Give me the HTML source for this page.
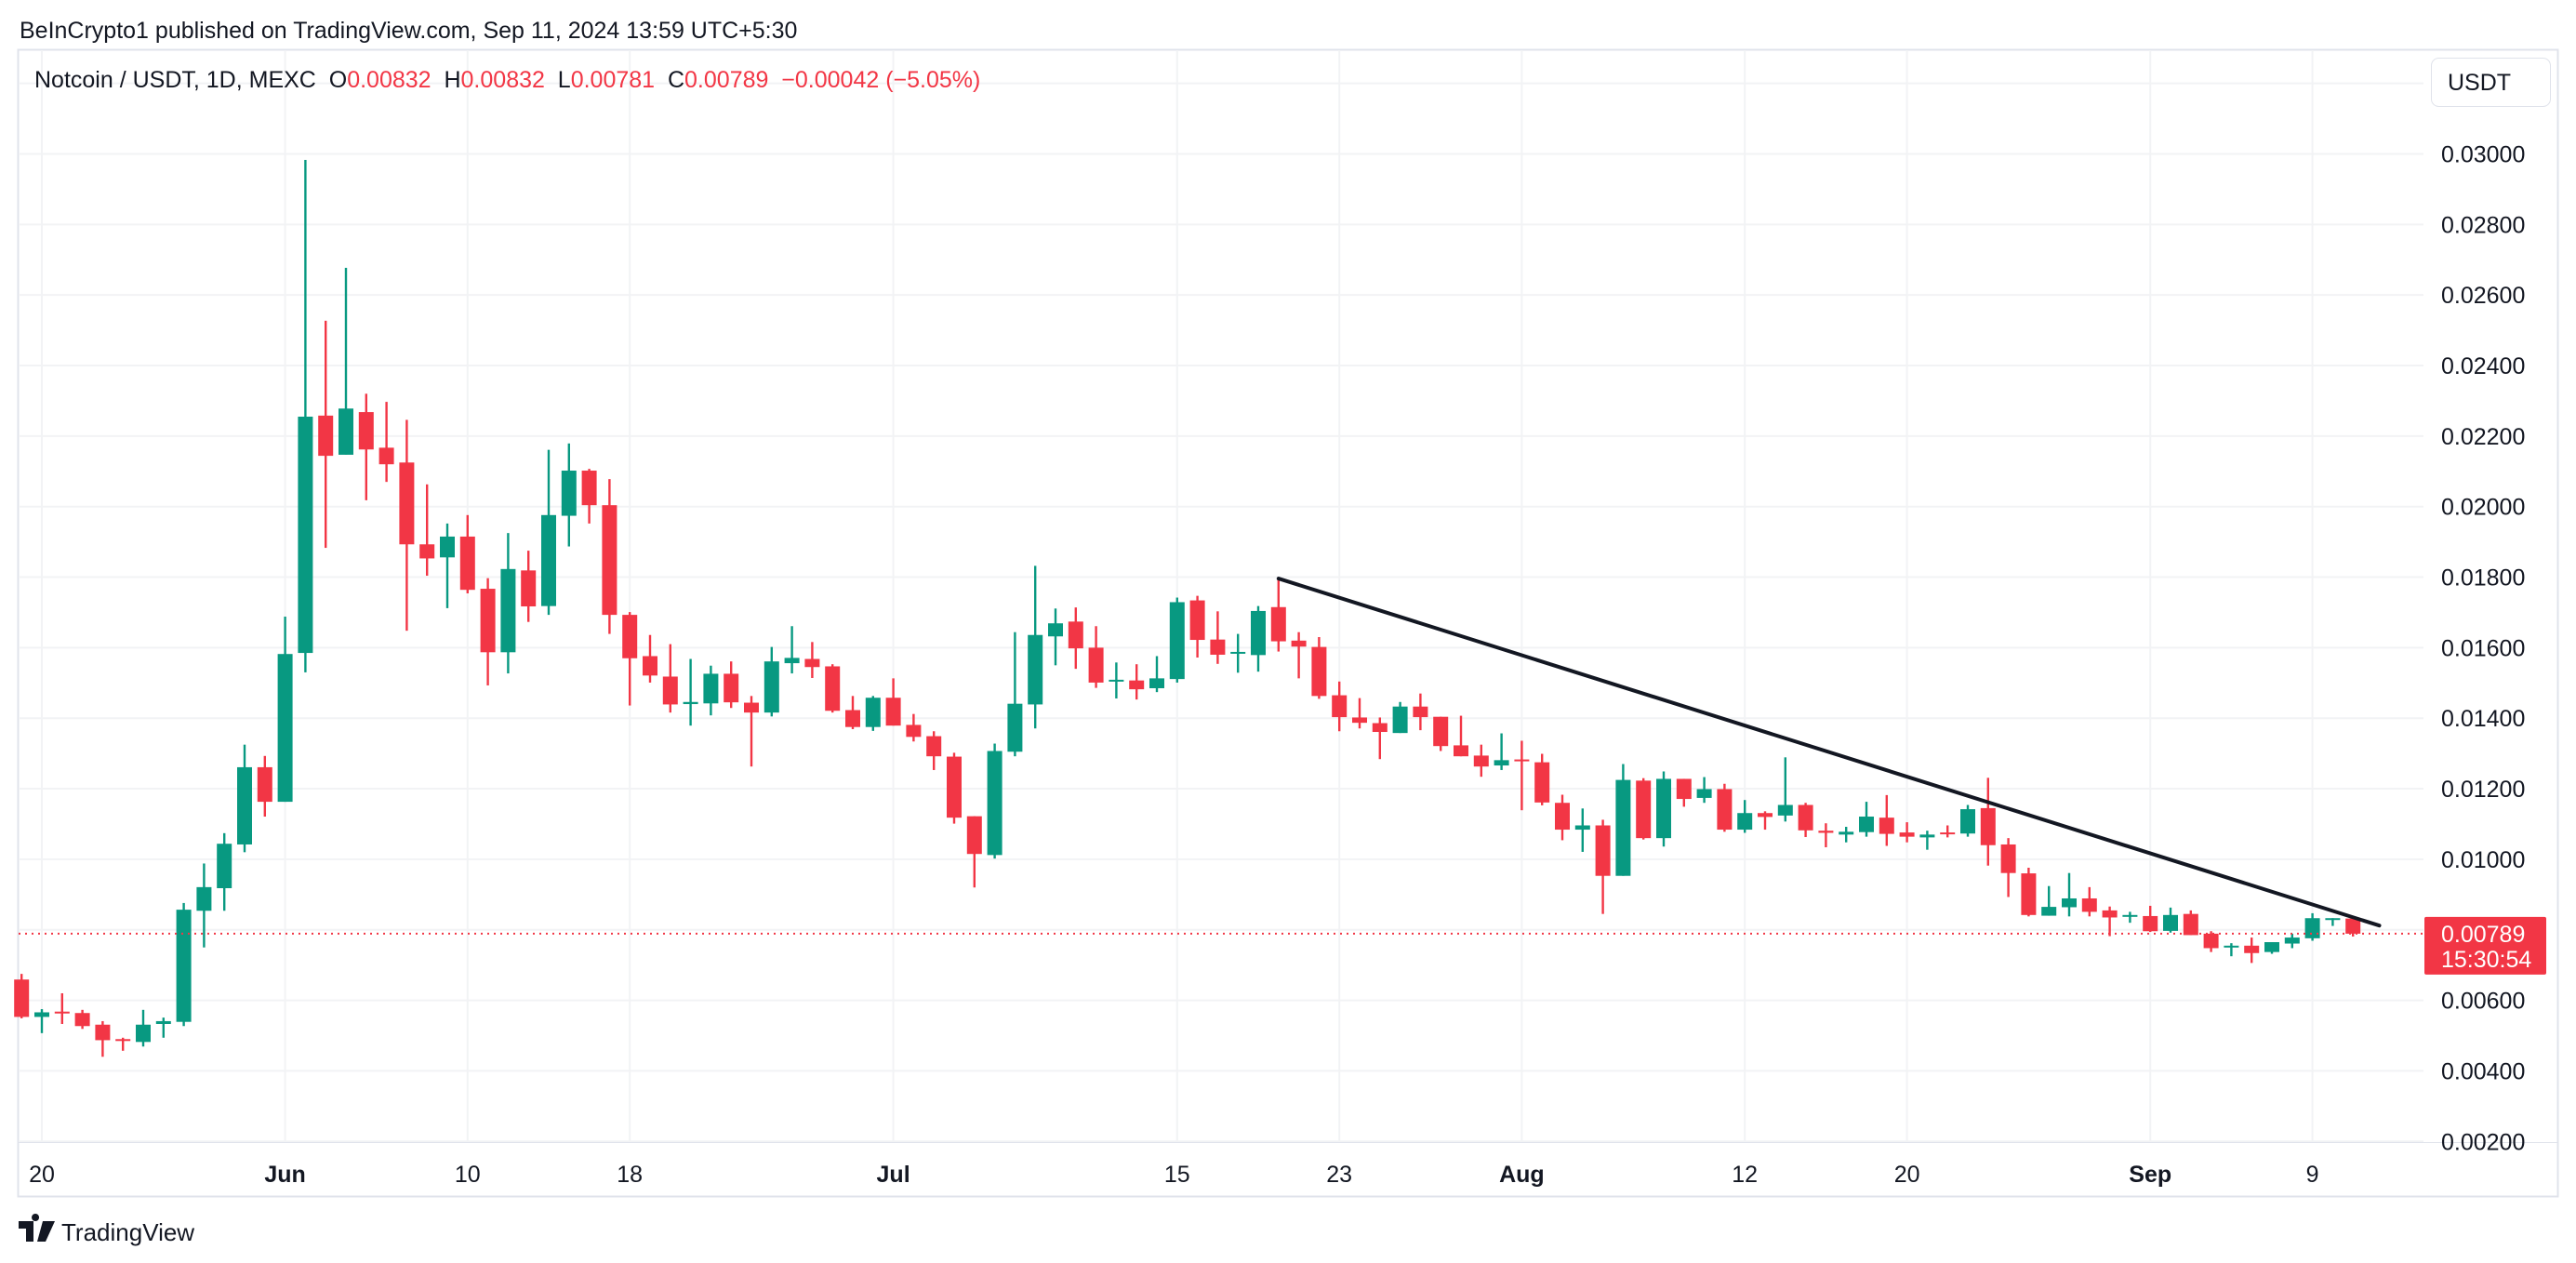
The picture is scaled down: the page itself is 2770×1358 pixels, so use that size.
<!DOCTYPE html>
<html><head><meta charset="utf-8"><style>
html,body{margin:0;padding:0;background:#fff;}
svg{display:block;font-family:"Liberation Sans",sans-serif;}
</style></head><body>
<svg id="chart" width="2770" height="1358" viewBox="0 0 2770 1358" xmlns="http://www.w3.org/2000/svg">
<text x="21" y="41" font-size="25" fill="#131722">BeInCrypto1 published on TradingView.com, Sep 11, 2024 13:59 UTC+5:30</text>
<rect x="19.5" y="53.5" width="2731" height="1233" fill="none" stroke="#e0e3eb" stroke-width="2"/>
<g id="grid"></g>
<g id="candles"></g>
<g id="overlay"></g>
<text x="37" y="94" font-size="25" style="white-space:pre" xml:space="preserve"><tspan fill="#131722">Notcoin / USDT, 1D, MEXC  </tspan><tspan fill="#131722">O</tspan><tspan fill="#f23645">0.00832  </tspan><tspan fill="#131722">H</tspan><tspan fill="#f23645">0.00832  </tspan><tspan fill="#131722">L</tspan><tspan fill="#f23645">0.00781  </tspan><tspan fill="#131722">C</tspan><tspan fill="#f23645">0.00789  −0.00042 (−5.05%)</tspan></text>
<rect x="2614.5" y="62.5" width="128" height="52" rx="8" fill="#fff" stroke="#e0e3eb"/>
<text x="2632" y="97" font-size="25" fill="#131722">USDT</text>
<g>
<path d="M20 1313h16v22h-8v-14h-8z M38 1313a4 4 0 1 1 0.1 0z M46 1313h13l-10 22h-9z" fill="#131722"/>
<text x="66" y="1334" font-size="26" fill="#131722">TradingView</text>
</g>
</svg>
<script>
const startDay = -1; // May 19 = -1, May 20 = 0
const opens = [.00659,.00553,.00568,.00564,.00531,.00490,.00482,.00533,.00539,.00854,.00918,.01042,.01261,
.01163,.01585,.02258,.02147,.02268,.02167,.02125,.01893,.01856,.01915,.01767,.01587,.01819,.01718,.01974,.02102,.02004,.01693,.01576,.01518,.01440,.01442,.01526,.01444,.01416,.01556,.01568,.01547,.01423,.01375,
.01458,.01381,.01349,.01291,.01122,.01012,.01305,.01439,.01632,.01674,.01600,.01505,.01507,.01485,.01511,.01734,.01623,.01583,.01579,.01715,.01620,.01602,.01465,.01402,.01386,.01358,.01433,.01404,.01323,.01294,.01266,
.01283,.01275,.01160,.01084,.01096,.00953,.01223,.01060,.01228,.01174,.01199,.01084,.01131,.01124,.01154,.01081,.01070,.01077,.01118,.01076,.01062,.01076,.01073,.01145,.01042,.00960,.00840,.00864,.00889,.00855,.00840,
.00839,.00797,.00845,.00789,.00752,.00755,.00737,.00761,.00776,.00831,.00832];
const highs = [.00675,.00575,.00620,.00573,.00541,.00494,.00573,.00551,.00876,.00988,.01074,.01325,.01293,
.01688,.02983,.02527,.02677,.02320,.02297,.02246,.02063,.01952,.01976,.01797,.01925,.01875,.02161,.02179,.02107,.02078,.01701,.01636,.01610,.01568,.01549,.01561,.01463,.01602,.01661,.01616,.01553,.01463,.01463,
.01513,.01412,.01363,.01302,.01122,.01328,.01644,.01832,.01711,.01714,.01661,.01558,.01553,.01576,.01742,.01747,.01703,.01639,.01718,.01796,.01644,.01630,.01504,.01457,.01402,.01446,.01470,.01404,.01407,.01325,.01357,
.01336,.01299,.01183,.01144,.01112,.01270,.01230,.01249,.01228,.01233,.01214,.01168,.01136,.01289,.01160,.01102,.01092,.01163,.01182,.01105,.01081,.01096,.01154,.01231,.01060,.00976,.00924,.00961,.00921,.00866,.00851,
.00868,.00863,.00855,.00796,.00762,.00778,.00765,.00789,.00847,.00833,.00832];
const lows = [.00549,.00507,.00533,.00519,.00440,.00457,.00469,.00494,.00527,.00750,.00854,.01020,.01121,
.01163,.01530,.01883,.02147,.02018,.02070,.01648,.01804,.01712,.01754,.01493,.01527,.01673,.01693,.01887,.01952,.01639,.01436,.01501,.01416,.01379,.01408,.01429,.01263,.01405,.01527,.01514,.01416,.01369,.01364,
.01379,.01334,.01253,.01101,.00920,.01002,.01292,.01371,.01550,.01540,.01486,.01456,.01453,.01474,.01501,.01572,.01554,.01529,.01532,.01589,.01513,.01455,.01363,.01371,.01284,.01358,.01366,.01307,.01292,.01234,.01253,
.01139,.01153,.01054,.01021,.00845,.00953,.01056,.01036,.01149,.01160,.01078,.01075,.01084,.01107,.01063,.01034,.01048,.01064,.01038,.01048,.01027,.01062,.01064,.00982,.00893,.00838,.00840,.00838,.00838,.00782,.00820,
.00794,.00792,.00785,.00737,.00725,.00706,.00732,.00748,.00769,.00811,.00781];
const closes = [.00553,.00566,.00566,.00527,.00487,.00486,.00531,.00541,.00857,.00921,.01044,.01261,.01163,
.01582,.02255,.02144,.02278,.02162,.02120,.01893,.01853,.01915,.01764,.01587,.01823,.01717,.01976,.02102,.02004,.01693,.01570,.01521,.01439,.01446,.01526,.01445,.01416,.01561,.01571,.01545,.01421,.01375,.01458,
.01379,.01347,.01292,.01118,.01015,.01307,.01441,.01636,.01669,.01598,.01501,.01509,.01482,.01513,.01729,.01622,.01580,.01588,.01704,.01618,.01603,.01463,.01403,.01387,.01361,.01433,.01403,.01321,.01292,.01263,.01281,
.01280,.01161,.01084,.01096,.00953,.01225,.01060,.01228,.01171,.01199,.01084,.01131,.01120,.01154,.01082,.01075,.01078,.01121,.01072,.01064,.01070,.01074,.01142,.01040,.00961,.00842,.00865,.00889,.00851,.00835,.00842,
.00796,.00842,.00785,.00748,.00755,.00734,.00765,.00778,.00833,.00833,.00789];
const priceTicks = [0.032,0.030,0.028,0.026,0.024,0.022,0.020,0.018,0.016,0.014,0.012,0.010,0.008,0.006,0.004,0.002];
const priceTickLabels = ["","0.03000","0.02800","0.02600","0.02400","0.02200","0.02000","0.01800","0.01600","0.01400","0.01200","0.01000","","0.00600","0.00400","0.00200"];
const dateTickDays = [0,12,21,29,42,56,64,73,84,92,104,112];
const dateTickLabels = ["20","Jun","10","18","Jul","15","23","Aug","12","20","Sep","9"];
const dateTickBold = [false,true,false,false,true,false,false,true,false,false,true,false];
const trendDays = [61,115.3];
const trendPrices = [0.01796,0.00812];
const lastPrice = 0.00789;
const countdown = "15:30:54";

const NS="http://www.w3.org/2000/svg";
const X0=45, DX=21.8, Y0=165.5, PY=37920, PLOT_L=20, PLOT_R=2606, PLOT_T=54, PLOT_B=1228;
function xScale(d){return X0+d*DX;}
function yScale(p){return Y0+(0.030-p)*PY;}
function mk(tag,attrs,parent){const e=document.createElementNS(NS,tag);for(const k in attrs)e.setAttribute(k,attrs[k]);parent.appendChild(e);return e;}
const grid=document.getElementById('grid'), cg=document.getElementById('candles'), ov=document.getElementById('overlay'), svg=document.getElementById('chart');

priceTicks.forEach((p,i)=>{
  const y=yScale(p);
  if(y<PLOT_T||y>PLOT_B+1)return;
  const l=mk('line',{x1:PLOT_L,x2:PLOT_R,y1:y,y2:y,stroke:'#f2f3f5','stroke-width':2},grid);
  
  
  if(priceTickLabels[i]){
    const t=mk('text',{x:2625,y:y+9,'font-size':25,fill:'#131722'},svg);
    t.textContent=priceTickLabels[i];
    
    
  }
});
dateTickDays.forEach((d,i)=>{
  const x=xScale(d);
  const l=mk('line',{x1:x,x2:x,y1:PLOT_T,y2:PLOT_B,stroke:'#f2f3f5','stroke-width':2},grid);
  
  
  const t=mk('text',{x:x,y:1271,'font-size':25,fill:'#131722','text-anchor':'middle','font-weight':dateTickBold[i]?'bold':'normal'},svg);
  t.textContent=dateTickLabels[i];
  
  
});
const sep=mk('line',{x1:PLOT_L,x2:2750,y1:PLOT_B+0.5,y2:PLOT_B+0.5,stroke:'#e0e3eb','stroke-width':1},grid);



opens.forEach((o,i)=>{
  const d=startDay+i, c=closes[i], h=highs[i], lo=lows[i];
  const col=c>=o?'#089981':'#f23645';
  const x=xScale(d);
  const g=mk('g',{},cg);
  
  
  mk('rect',{x:x-1.2,y:yScale(h),width:2.4,height:Math.max(1,yScale(lo)-yScale(h)),fill:col},g);
  const top=yScale(Math.max(o,c)), bot=yScale(Math.min(o,c));
  mk('rect',{x:x-8,y:top,width:16,height:Math.max(2,bot-top),fill:col},g);
});

const ly=yScale(lastPrice);
const dl=mk('line',{x1:PLOT_L,x2:PLOT_R,y1:ly,y2:ly,stroke:'#f23645','stroke-width':2,'stroke-dasharray':'2 5'},ov);


const tl=mk('line',{x1:xScale(trendDays[0]),y1:yScale(trendPrices[0]),x2:xScale(trendDays[1]),y2:yScale(trendPrices[1]),stroke:'#131722','stroke-width':4,'stroke-linecap':'round'},ov);


const lb=mk('g',{},svg);


mk('rect',{x:2607,y:ly-18,width:131,height:62,rx:2,fill:'#f23645'},lb);
const t1=mk('text',{x:2625,y:ly+9,'font-size':25,fill:'#fff'},lb); t1.textContent=lastPrice.toFixed(5);
const t2=mk('text',{x:2625,y:ly+36,'font-size':25,fill:'#fff'},lb); t2.textContent=countdown;
</script>
</body></html>
